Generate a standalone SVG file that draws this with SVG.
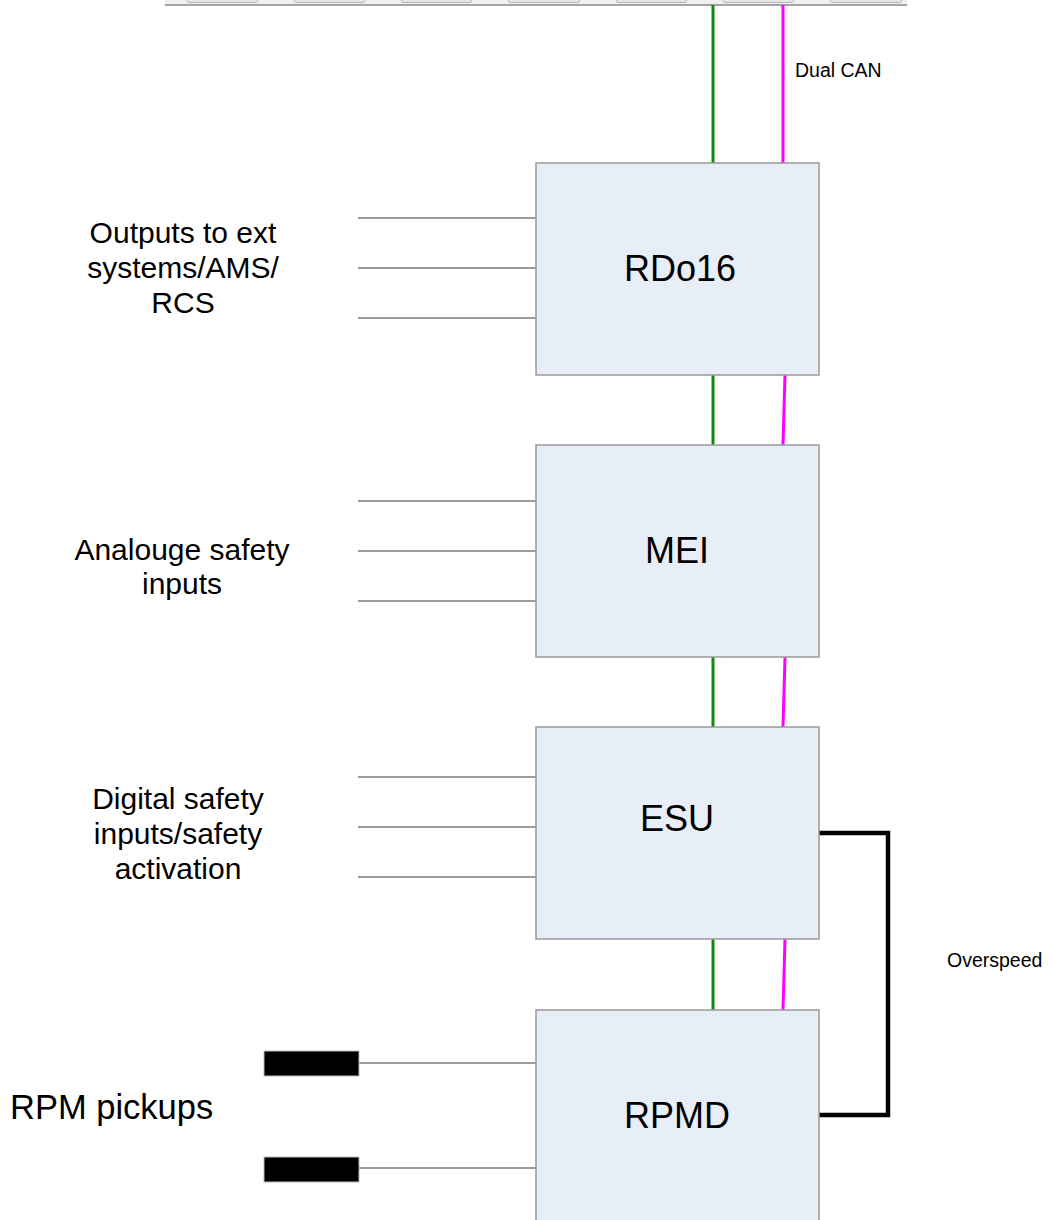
<svg xmlns="http://www.w3.org/2000/svg" width="1051" height="1220" viewBox="0 0 1051 1220">
<style>
text{font-family:"Liberation Sans",Arial,sans-serif;fill:#000}
.box{fill:#e8eef7;stroke:#999;stroke-width:1.5}
.tab{fill:#e6e6e6;stroke:#b4b4b4;stroke-width:1}
.lead{stroke:#7a7a7a;stroke-width:1.3;fill:none}
.g{stroke:#118811;stroke-width:3;fill:none}
.m{stroke:#ff00ff;stroke-width:3;fill:none}
.big{font-size:36px}
.side{font-size:30px}
.small{font-size:19.5px}
</style>
<rect width="1051" height="1220" fill="#fff"/>
<g id="bus">
<rect x="165" y="0" width="742" height="5" fill="#f0f0f0"/>
<rect class="tab" x="187" y="-20" width="71" height="22.5" rx="3"/>
<rect class="tab" x="294" y="-20" width="71" height="22.5" rx="3"/>
<rect class="tab" x="401" y="-20" width="71" height="22.5" rx="3"/>
<rect class="tab" x="508" y="-20" width="72" height="22.5" rx="3"/>
<rect class="tab" x="616" y="-20" width="71" height="22.5" rx="3"/>
<rect class="tab" x="723" y="-20" width="71" height="22.5" rx="3"/>
<rect class="tab" x="830" y="-20" width="72" height="22.5" rx="3"/>
<line x1="165" y1="5" x2="907" y2="5" stroke="#888" stroke-width="1.5"/>
</g>
<g id="connectors">
<line class="g" x1="713" y1="5" x2="713" y2="163"/>
<line class="m" x1="783" y1="5" x2="783" y2="163"/>
<line class="g" x1="713" y1="375" x2="713" y2="445"/>
<line class="m" x1="785" y1="375" x2="783" y2="445"/>
<line class="g" x1="713" y1="657" x2="713" y2="727"/>
<line class="m" x1="785" y1="657" x2="783" y2="727"/>
<line class="g" x1="713" y1="939" x2="713" y2="1010"/>
<line class="m" x1="785" y1="939" x2="783" y2="1010"/>
<line class="lead" x1="358" y1="218" x2="536" y2="218"/>
<line class="lead" x1="358" y1="268" x2="536" y2="268"/>
<line class="lead" x1="358" y1="318" x2="536" y2="318"/>
<line class="lead" x1="358" y1="501" x2="536" y2="501"/>
<line class="lead" x1="358" y1="551" x2="536" y2="551"/>
<line class="lead" x1="358" y1="601" x2="536" y2="601"/>
<line class="lead" x1="358" y1="777" x2="536" y2="777"/>
<line class="lead" x1="358" y1="827" x2="536" y2="827"/>
<line class="lead" x1="358" y1="877" x2="536" y2="877"/>
<line class="lead" x1="359" y1="1063" x2="536" y2="1063"/>
<line class="lead" x1="359" y1="1168" x2="536" y2="1168"/>
<polyline points="819,833 888,833 888,1115 819,1115" fill="none" stroke="#000" stroke-width="4.5"/>
</g>
<g id="RDo16">
<rect class="box" x="536" y="163" width="283" height="212"/>
<text class="big" x="680" y="281" text-anchor="middle">RDo16</text>
</g>
<g id="MEI">
<rect class="box" x="536" y="445" width="283" height="212"/>
<text class="big" x="677" y="563" text-anchor="middle">MEI</text>
</g>
<g id="ESU">
<rect class="box" x="536" y="727" width="283" height="212"/>
<text class="big" x="677" y="831" text-anchor="middle">ESU</text>
</g>
<g id="RPMD">
<rect class="box" x="536" y="1010" width="283" height="230"/>
<text class="big" x="677" y="1128" text-anchor="middle">RPMD</text>
</g>
<g id="pickup1"><rect x="264" y="1051" width="95" height="25" fill="#000" stroke="#bbb" stroke-width="1"/></g>
<g id="pickup2"><rect x="264" y="1157" width="95" height="25" fill="#000" stroke="#bbb" stroke-width="1"/></g>
<g id="labels">
<text class="side" x="183" y="243" text-anchor="middle">Outputs to ext</text>
<text class="side" x="183" y="278" text-anchor="middle">systems/AMS/</text>
<text class="side" x="183" y="313" text-anchor="middle">RCS</text>
<text class="side" x="182" y="560" text-anchor="middle">Analouge safety</text>
<text class="side" x="182" y="594" text-anchor="middle">inputs</text>
<text class="side" x="178" y="809" text-anchor="middle">Digital safety</text>
<text class="side" x="178" y="844" text-anchor="middle">inputs/safety</text>
<text class="side" x="178" y="879" text-anchor="middle">activation</text>
<text x="10" y="1119" style="font-size:34.5px">RPM pickups</text>
<text class="small" x="795" y="77">Dual CAN</text>
<text class="small" x="947" y="967">Overspeed</text>
</g>
</svg>
